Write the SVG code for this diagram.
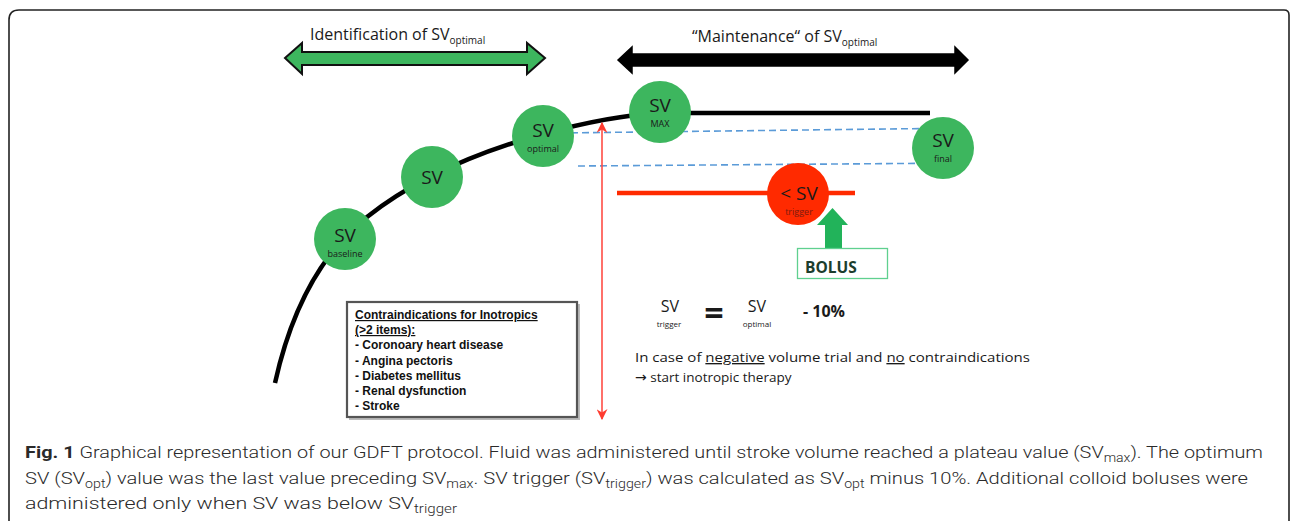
<svg xmlns="http://www.w3.org/2000/svg" width="1290" height="521" viewBox="0 0 1290 521">
<defs>
<style>
.t{font-family:"Open Sans","Liberation Sans",sans-serif;fill:#1a1a1a}
.sv{font-family:"Open Sans","Liberation Sans",sans-serif;font-size:19px;fill:#1a1a1a;text-anchor:middle}
.sub{font-family:"Open Sans","Liberation Sans",sans-serif;font-size:9px;fill:#1a1a1a;text-anchor:middle}
.g{fill:#3db65e}
.ci{font-family:"Liberation Sans",Arial,sans-serif;font-size:12px;font-weight:bold;fill:#111}
.cap{font-family:Roboto,"Liberation Sans",sans-serif;font-size:17px;font-weight:300;fill:#2a2a2a}
.cs{font-size:12px}
.blue{stroke:#5b9bd8;stroke-width:1.6;stroke-dasharray:7 4;fill:none}
</style>
<marker id="rh" viewBox="0 0 10 10" refX="9" refY="5" markerWidth="11" markerHeight="11" markerUnits="userSpaceOnUse" orient="auto-start-reverse">
<path d="M0,0 L10,5 L0,10 L3,5 Z" fill="#ff3b2f"/>
</marker>
</defs>
<rect width="1290" height="521" fill="#fff"/>
<path d="M9,530 V20 Q9,10 19,10 H1284 Q1289,10 1289,15 V530" fill="none" stroke="#222" stroke-width="1.6"/>

<g id="ident">
<path d="M285,58 L302,43 L302,52 L527,52 L527,43 L545,58 L527,74 L527,65 L302,65 L302,74 Z" fill="#3db65e" stroke="#111" stroke-width="2" stroke-linejoin="miter"/>
<text class="t" x="310" y="40" font-size="16">Identification of SV<tspan font-size="10" dy="4">optimal</tspan></text>
</g>
<g id="maint">
<path d="M618,60 L632,47 L632,54 L955,54 L955,47 L968,60 L955,73 L955,66 L632,66 L632,73 Z" fill="#000" stroke="#000" stroke-width="1.5"/>
<text class="t" x="692" y="42" font-size="16">“Maintenance“ of SV<tspan font-size="10" dy="4">optimal</tspan></text>
</g>

<g id="connectors">
<path d="M275,383 Q300,270 367,217 T543,134 Q610,115.6 660,113 L930,113" fill="none" stroke="#000" stroke-width="4.5" stroke-linecap="butt"/>
<path class="blue" d="M560,133 L967,128"/>
<path class="blue" d="M578,166 L967,163"/>
<line x1="617" y1="193" x2="855" y2="193" stroke="#ff2a00" stroke-width="4.5"/>
<line x1="602" y1="419" x2="602" y2="123" stroke="#ff4d45" stroke-width="1.6" marker-start="url(#rh)" marker-end="url(#rh)"/>
<path d="M817,225 L832.5,208 L848,225 L842,225 L842,248 L825,248 L825,225 Z" fill="#22b35a"/>
</g>

<g id="sv-baseline">
<circle class="g" cx="345" cy="239" r="31"/>
<text class="sv" x="345" y="242">SV</text>
<text class="sub" x="345" y="257">baseline</text>
</g>
<g id="sv-2">
<circle class="g" cx="432" cy="177" r="31"/>
<text class="sv" x="432" y="184">SV</text>
</g>
<g id="sv-optimal">
<circle class="g" cx="543" cy="136" r="31"/>
<text class="sv" x="543" y="137">SV</text>
<text class="sub" x="543" y="152">optimal</text>
</g>
<g id="sv-max">
<circle class="g" cx="660" cy="112" r="31"/>
<text class="sv" x="660" y="112">SV</text>
<text class="sub" x="660" y="127">MAX</text>
</g>
<g id="sv-final">
<circle class="g" cx="943" cy="148" r="31"/>
<text class="sv" x="943" y="147">SV</text>
<text class="sub" x="943" y="162">final</text>
</g>
<g id="sv-trigger">
<circle cx="798" cy="194" r="31" fill="#ff2a00"/>
<text class="sv" x="799" y="200">&lt; SV</text>
<text class="sub" x="799" y="215" style="fill:#7a1a10">trigger</text>
</g>
<g id="bolus">
<rect x="797.5" y="248.5" width="90" height="30" fill="#fff" stroke="#5fd08f" stroke-width="1.3"/>
<text x="805" y="273" font-family="'Open Sans','Liberation Sans',sans-serif" font-size="15.5" font-weight="bold" fill="#1c3d2c">BOLUS</text>
</g>

<g id="contra">
<rect x="349" y="304" width="231" height="116" fill="#bbb"/>
<rect x="347" y="302" width="230" height="115" fill="#fff" stroke="#555" stroke-width="2.2"/>
<text class="ci" x="355" y="319" text-decoration="underline">Contraindications for Inotropics</text>
<text class="ci" x="355" y="334" text-decoration="underline">(&gt;2 items):</text>
<text class="ci" x="355" y="349">- Coronoary heart disease</text>
<text class="ci" x="355" y="364.5">- Angina pectoris</text>
<text class="ci" x="355" y="380">- Diabetes mellitus</text>
<text class="ci" x="355" y="395">- Renal dysfunction</text>
<text class="ci" x="355" y="410">- Stroke</text>
</g>

<g id="formula">
<text class="t" x="670" y="312" font-size="16" text-anchor="middle">SV</text>
<text class="t" x="669" y="327" font-size="8" text-anchor="middle">trigger</text>
<text class="t" x="714" y="325" font-size="34" font-weight="bold" text-anchor="middle">=</text>
<text class="t" x="757" y="312" font-size="16" text-anchor="middle">SV</text>
<text class="t" x="757" y="327" font-size="8" text-anchor="middle">optimal</text>
<text class="t" x="803" y="317" font-size="16" font-weight="bold">- 10%</text>
<text class="t" x="635" y="362" font-size="13.5" textLength="395" lengthAdjust="spacingAndGlyphs">In case of <tspan text-decoration="underline">negative</tspan> volume trial and <tspan text-decoration="underline">no</tspan> contraindications</text>
<text class="t" x="635" y="382" font-size="13.5"><tspan font-family="'DejaVu Sans',sans-serif" font-size="14">→</tspan> start inotropic therapy</text>
</g>

<g id="caption">
<text class="cap" x="25" y="458" textLength="1238" lengthAdjust="spacingAndGlyphs"><tspan font-weight="bold">Fig. 1</tspan> Graphical representation of our GDFT protocol. Fluid was administered until stroke volume reached a plateau value (SV<tspan class="cs" dy="4">max</tspan><tspan dy="-4">). The optimum</tspan></text>
<text class="cap" x="25" y="484" textLength="1223" lengthAdjust="spacingAndGlyphs">SV (SV<tspan class="cs" dy="4">opt</tspan><tspan dy="-4">) value was the last value preceding SV</tspan><tspan class="cs" dy="4">max</tspan><tspan dy="-4">. SV trigger (SV</tspan><tspan class="cs" dy="4">trigger</tspan><tspan dy="-4">) was calculated as SV</tspan><tspan class="cs" dy="4">opt</tspan><tspan dy="-4"> minus 10%. Additional colloid boluses were</tspan></text>
<text class="cap" x="25" y="509" textLength="432" lengthAdjust="spacingAndGlyphs">administered only when SV was below SV<tspan class="cs" dy="4">trigger</tspan></text>
</g>
</svg>
